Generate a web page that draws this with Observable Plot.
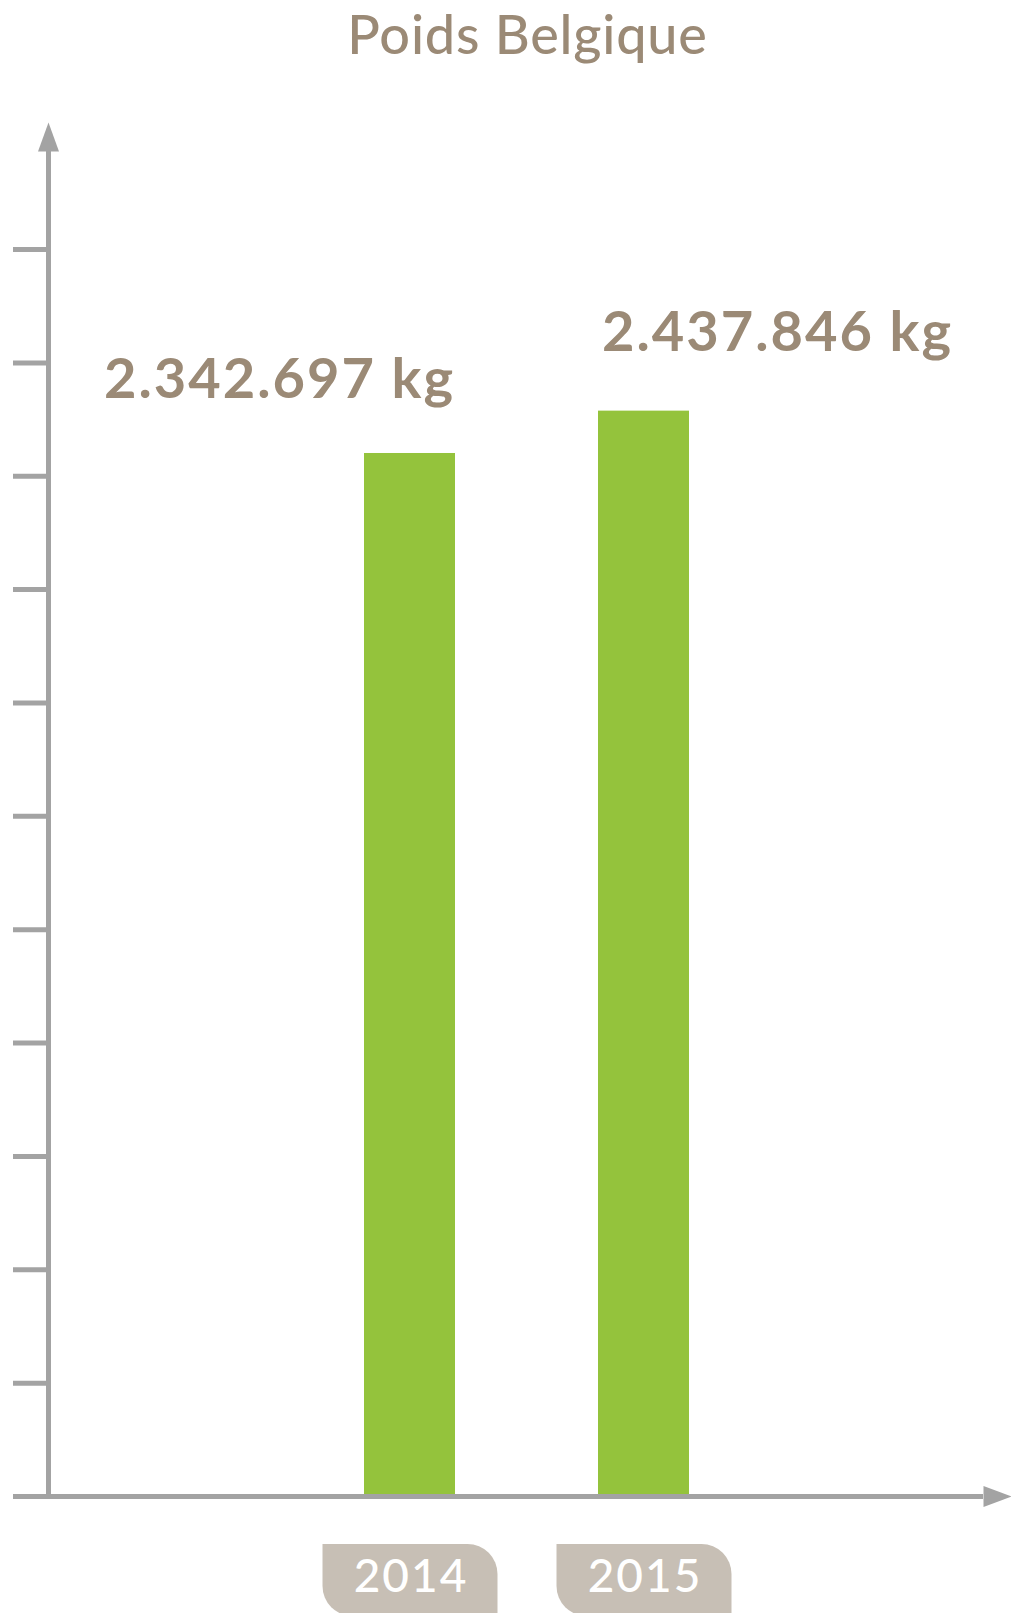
<!DOCTYPE html>
<html><head><meta charset="utf-8">
<script src="https://cdn.jsdelivr.net/npm/d3@7"></script>
<script src="https://cdn.jsdelivr.net/npm/@observablehq/plot@0.6"></script>
<style>
body{margin:0;background:#fff;}
#title{height:80px;box-sizing:border-box;padding-top:7px;padding-left:44px;text-align:center;font-family:Lato,sans-serif;font-weight:500;font-size:54px;line-height:53px;letter-spacing:0.8px;color:#9b8a76;}
#chart text{letter-spacing:2px;}
</style></head><body>
<div id="title">Poids Belgique</div>
<div id="chart"></div>
<script>
const years = ["2014", "2015"];
const weights = [2342697, 2437846];
const unit = "kg";
const tickStep = 254620;
const tickCount = 11;

const data = years.map((year, i) => ({year, value: weights[i]}));
const yTicks = d3.range(1, tickCount + 1).map(k => k * tickStep);
const fmt = d3.formatLocale({decimal: ",", thousands: ".", grouping: [3], currency: ["", ""]}).format(",d");

const grey = "#a3a3a3", green = "#94c33c", brown = "#9b8a76", tabFill = "#c7bfb5";

const upArrow = {draw(ctx) { ctx.moveTo(-10.5, 0); ctx.lineTo(0, -29); ctx.lineTo(10.5, 0); ctx.closePath(); }};
const rightArrow = {draw(ctx) { ctx.moveTo(0, -10.5); ctx.lineTo(28, 0); ctx.lineTo(0, 10.5); ctx.closePath(); }};
const tab = {draw(ctx) {
  const w = 87.5, h = 72, r = 30;
  ctx.moveTo(-w, 0); ctx.lineTo(w - r, 0); ctx.arcTo(w, 0, w, r, r);
  ctx.lineTo(w, h); ctx.lineTo(-w + r, h); ctx.arcTo(-w, h, -w, h - r, r); ctx.closePath();
}};

const chart = Plot.plot({
  width: 1011,
  height: 1533,
  marginTop: 71,
  marginBottom: 117,
  marginLeft: 48,
  marginRight: 28,
  style: {background: "white", fontFamily: "Lato, sans-serif", overflow: "visible"},
  x: {type: "band", domain: years, range: [363, 689], paddingInner: 0.612, paddingOuter: 0, axis: null},
  y: {domain: [0, 3021000], axis: null},
  marks: [
    Plot.barY(data, {x: "year", y: "value", fill: green}),
    Plot.axisY(yTicks, {tickSize: 35, tickFormat: () => "", label: null, stroke: grey, strokeWidth: 5}),
    Plot.frame({anchor: "left", stroke: grey, strokeWidth: 5}),
    Plot.ruleY([0], {stroke: grey, strokeWidth: 5, insetLeft: -35}),
    Plot.dot([0], {frameAnchor: "top-left", symbol: upArrow, fill: grey, stroke: null}),
    Plot.dot([0], {frameAnchor: "bottom-right", symbol: rightArrow, fill: grey, stroke: null}),
    Plot.text(data, {filter: d => d.year === years[0], x: "year", y: "value", text: d => fmt(d.value) + " " + unit,
      textAnchor: "end", lineAnchor: "bottom", dx: 45, dy: -55.5, fontSize: 56, fontWeight: "bold", fill: brown}),
    Plot.text(data, {filter: d => d.year === years[1], x: "year", y: "value", text: d => fmt(d.value) + " " + unit,
      textAnchor: "start", lineAnchor: "bottom", dx: -42, dy: -60.5, fontSize: 56, fontWeight: "bold", fill: brown}),
    Plot.dot(years, {x: d => d, frameAnchor: "bottom", dy: 47.5, symbol: tab, fill: tabFill, stroke: null}),
    Plot.text(years, {x: d => d, frameAnchor: "bottom", dy: 95, dx: 1, lineAnchor: "bottom", fill: "white", fontSize: 46, fontWeight: 500})
  ]
});
document.getElementById("chart").appendChild(chart);
</script>
</body></html>
